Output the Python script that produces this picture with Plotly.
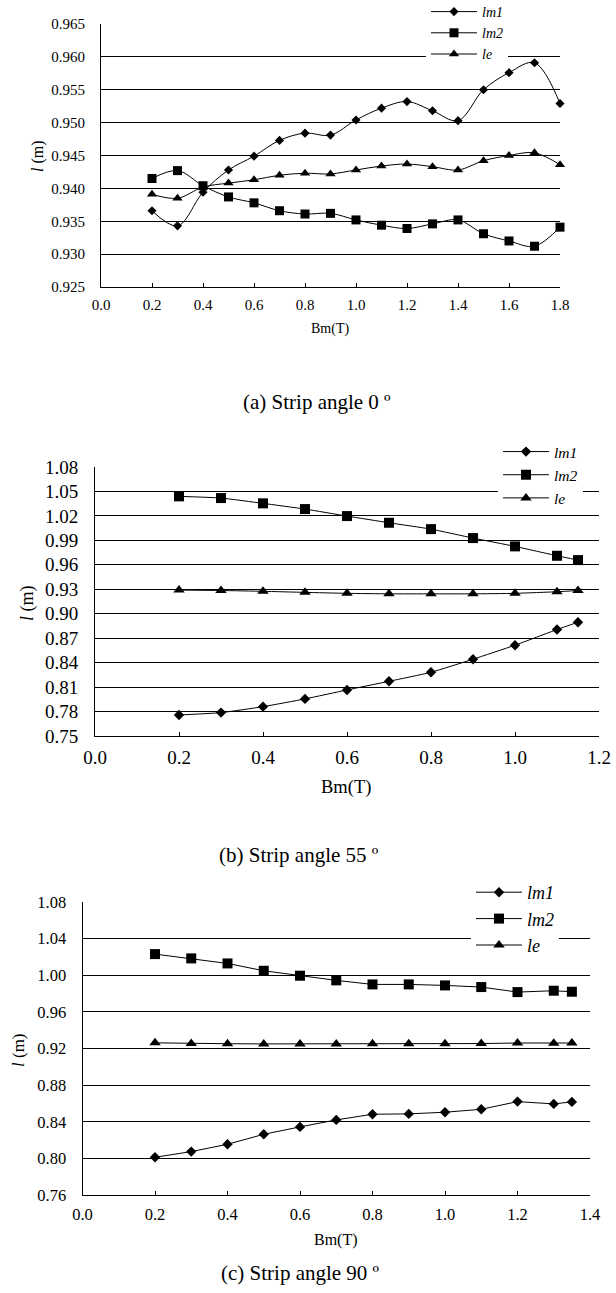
import plotly.graph_objects as go

W, H = 616, 1293

# ---------------- data ----------------
# (a) Strip angle 0
xa = [0.2, 0.3, 0.4, 0.5, 0.6, 0.7, 0.8, 0.9, 1.0, 1.1, 1.2, 1.3, 1.4, 1.5, 1.6, 1.7, 1.8]
a_lm1 = [0.9366, 0.9343, 0.9394, 0.9428, 0.9449, 0.9473, 0.9484, 0.9481, 0.9504, 0.9522,
         0.9532, 0.9518, 0.9503, 0.9550, 0.9576, 0.9591, 0.9529]
a_lm2 = [0.9415, 0.9427, 0.9404, 0.9387, 0.9378, 0.9366, 0.9361, 0.9362, 0.9352, 0.9344,
         0.9339, 0.9346, 0.9352, 0.9331, 0.9320, 0.9312, 0.9341]
a_le = [0.9391, 0.9385, 0.9402, 0.9408, 0.9413, 0.9420, 0.9423, 0.9422, 0.9428, 0.9434,
        0.9437, 0.9433, 0.9428, 0.9442, 0.9450, 0.9454, 0.9436]

# (b) Strip angle 55
xb = [0.2, 0.3, 0.4, 0.5, 0.6, 0.7, 0.8, 0.9, 1.0, 1.1, 1.15]
b_lm1 = [0.7758, 0.7787, 0.7860, 0.7955, 0.8065, 0.8171, 0.8282, 0.8442, 0.8614, 0.8806, 0.8896]
b_lm2 = [1.0440, 1.0419, 1.0354, 1.0284, 1.0198, 1.0116, 1.0038, 0.9928, 0.9826, 0.9711, 0.9658]
b_le = [0.9290, 0.9285, 0.9275, 0.9262, 0.9250, 0.9244, 0.9244, 0.9244, 0.9250, 0.9270, 0.9285]

# (c) Strip angle 90
xc = [0.2, 0.3, 0.4, 0.5, 0.6, 0.7, 0.8, 0.9, 1.0, 1.1, 1.2, 1.3, 1.35]
c_lm1 = [0.8012, 0.8074, 0.8154, 0.8263, 0.8344, 0.8420, 0.8482, 0.8486, 0.8504, 0.8536,
         0.8620, 0.8595, 0.8617]
c_lm2 = [1.0231, 1.0184, 1.0129, 1.0049, 0.9995, 0.9944, 0.9900, 0.9900, 0.9889, 0.9871,
         0.9816, 0.9831, 0.9820]
c_le = [0.9262, 0.9255, 0.9252, 0.9250, 0.9250, 0.9250, 0.9251, 0.9251, 0.9251, 0.9254,
        0.9260, 0.9256, 0.9260]

series_names = ["<i>lm1</i>", "<i>lm2</i>", "<i>le</i>"]
symbols = ["diamond", "square", "triangle-up"]
captions = ["(a) Strip angle 0 º", "(b) Strip angle 55 º", "(c) Strip angle 90 º"]

FONT = "Liberation Serif"


def px(x):
    return x / W


def py(y):
    return 1 - y / H


panels = [
    dict(x=xa, ys=[a_lm1, a_lm2, a_le], box=(101, 560, 24, 287), xr=[0, 1.8], xdt=0.2,
         yr=[0.925, 0.965], ydt=0.005, yfmt=".3f", tick=15, title=14, ytitle=16,
         shape="spline", smooth=1.0, caption=(317, 402), xtitle=(330, 329), ytitle_pos=(38, 156),
         leg=(426, -4), legfont=14, msizes=[7, 9, 9], caption_size=21),
    dict(x=xb, ys=[b_lm1, b_lm2, b_le], box=(95, 599, 467, 736), xr=[0, 1.2], xdt=0.2,
         yr=[0.75, 1.08], ydt=0.03, yfmt=".2f", tick=19, title=18.5, ytitle=18,
         shape="spline", smooth=0.5, caption=(299, 855), xtitle=(346, 787), ytitle_pos=(27, 603),
         leg=(498, 435), legfont=15.5, msizes=[8, 10, 10], caption_size=21),
    dict(x=xc, ys=[c_lm1, c_lm2, c_le], box=(82.5, 590, 902, 1195), xr=[0, 1.4], xdt=0.2,
         yr=[0.76, 1.08], ydt=0.04, yfmt=".2f", tick=16.5, title=16, ytitle=17,
         shape="linear", smooth=0, caption=(300, 1273), xtitle=(336, 1240), ytitle_pos=(18, 1050),
         leg=(471, 874), legfont=18, msizes=[8, 10, 10], caption_size=21),
]

fig = go.Figure()
annotations = []
layout = dict(width=W, height=H, margin=dict(l=0, r=0, t=0, b=0, autoexpand=False),
              paper_bgcolor="white", plot_bgcolor="white", showlegend=True,
              font=dict(family=FONT, color="black"))

for i, p in enumerate(panels):
    n = i + 1
    xa_name = "xaxis" if n == 1 else f"xaxis{n}"
    ya_name = "yaxis" if n == 1 else f"yaxis{n}"
    xref = "x" if n == 1 else f"x{n}"
    yref = "y" if n == 1 else f"y{n}"
    leg_name = "legend" if n == 1 else f"legend{n}"
    x0, x1, y0, y1 = p["box"]
    for name, sym, ys, ms in zip(series_names, symbols, p["ys"], p["msizes"]):
        fig.add_trace(go.Scatter(
            x=p["x"], y=ys, name=name, mode="lines+markers",
            line=dict(color="black", width=1, shape=p["shape"], smoothing=p["smooth"]),
            marker=dict(symbol=sym, size=ms, color="black"),
            xaxis=xref, yaxis=yref, legend=leg_name, cliponaxis=False,
        ))
    layout[xa_name] = dict(domain=[px(x0), px(x1)], range=p["xr"], dtick=p["xdt"], tick0=0,
                           tickformat=".1f", showline=True, linecolor="black", linewidth=1,
                           ticks="inside", ticklen=4, tickcolor="black", showgrid=False,
                           zeroline=False, anchor=yref, fixedrange=True, automargin=False,
                           tickfont=dict(size=p["tick"], family=FONT),
                           ticklabelstandoff=4, ticklabeloverflow="allow")
    layout[ya_name] = dict(domain=[py(y1), py(y0)], range=p["yr"], dtick=p["ydt"], tick0=p["yr"][0],
                           tickformat=p["yfmt"], showline=True, linecolor="black", linewidth=1,
                           ticks="", showgrid=True, gridcolor="black", gridwidth=1,
                           zeroline=False, anchor=xref, fixedrange=True, automargin=False,
                           tickfont=dict(size=p["tick"], family=FONT),
                           ticklabelstandoff=12, ticklabeloverflow="allow")
    layout[leg_name] = dict(x=px(p["leg"][0]), y=py(p["leg"][1]), xanchor="left", yanchor="top",
                            xref="paper", yref="paper", bgcolor="white",
                            font=dict(size=p["legfont"], family=FONT), tracegroupgap=0,
                            itemwidth=46)
    annotations.append(dict(text=captions[i], x=px(p["caption"][0]), y=py(p["caption"][1]),
                            xref="paper", yref="paper", showarrow=False,
                            font=dict(size=p["caption_size"], family=FONT), xanchor="center",
                            yanchor="middle"))
    annotations.append(dict(text="Bm(T)", x=px(p["xtitle"][0]), y=py(p["xtitle"][1]),
                            xref="paper", yref="paper", showarrow=False,
                            font=dict(size=p["title"], family=FONT), xanchor="center",
                            yanchor="middle"))
    annotations.append(dict(text="<i>l</i> (m)", x=px(p["ytitle_pos"][0]), y=py(p["ytitle_pos"][1]),
                            xref="paper", yref="paper", showarrow=False, textangle=-90,
                            font=dict(size=p["ytitle"], family=FONT), xanchor="center",
                            yanchor="middle"))

layout["annotations"] = annotations
fig.update_layout(**layout)
fig.write_html("out.html")
